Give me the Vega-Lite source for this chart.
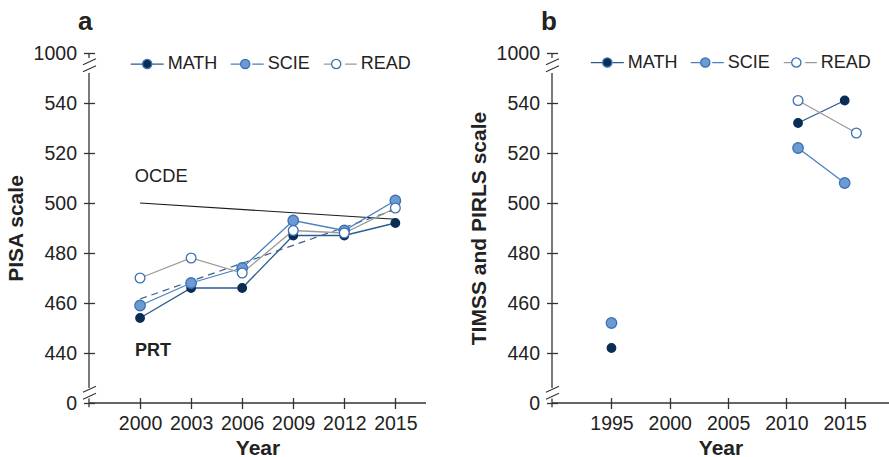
{
  "$schema": "https://vega.github.io/schema/vega-lite/v6.json",
  "background": "white",
  "padding": {"left": 5, "top": 9, "right": 0, "bottom": 0},
  "config": {
    "view": {"stroke": null},
    "font": "Liberation Sans",
    "axis": {
      "domain": false, "grid": false, "ticks": true, "tickSize": 11, "offset": -5.5,
      "tickColor": "#333333", "tickWidth": 1.3,
      "labelFont": "Liberation Sans", "labelFontSize": 19.5, "labelColor": "#222222",
      "titleFont": "Liberation Sans", "titleFontSize": 21, "titleFontWeight": "bold", "titleColor": "#222222"
    },
    "axisX": {"labelPadding": 6, "titlePadding": 4},
    "axisY": {"labelPadding": 7, "titlePadding": 7},
    "title": {"anchor": "start", "frame": "group", "fontSize": 26, "fontWeight": "bold", "color": "#222222", "dx": -11, "offset": 8}
  },
  "datasets": {
    "pisa": [
      {"year": 2000, "subject": "MATH", "score": 454},
      {"year": 2003, "subject": "MATH", "score": 466},
      {"year": 2006, "subject": "MATH", "score": 466},
      {"year": 2009, "subject": "MATH", "score": 487},
      {"year": 2012, "subject": "MATH", "score": 487},
      {"year": 2015, "subject": "MATH", "score": 492},
      {"year": 2000, "subject": "SCIE", "score": 459},
      {"year": 2003, "subject": "SCIE", "score": 468},
      {"year": 2006, "subject": "SCIE", "score": 474},
      {"year": 2009, "subject": "SCIE", "score": 493},
      {"year": 2012, "subject": "SCIE", "score": 489},
      {"year": 2015, "subject": "SCIE", "score": 501},
      {"year": 2000, "subject": "READ", "score": 470},
      {"year": 2003, "subject": "READ", "score": 478},
      {"year": 2006, "subject": "READ", "score": 472},
      {"year": 2009, "subject": "READ", "score": 489},
      {"year": 2012, "subject": "READ", "score": 488},
      {"year": 2015, "subject": "READ", "score": 498}
    ],
    "timss": [
      {"year": 1995, "subject": "MATH", "score": 442},
      {"year": 2011, "subject": "MATH", "score": 532},
      {"year": 2015, "subject": "MATH", "score": 541},
      {"year": 1995, "subject": "SCIE", "score": 452},
      {"year": 2011, "subject": "SCIE", "score": 522},
      {"year": 2015, "subject": "SCIE", "score": 508},
      {"year": 2011, "subject": "READ", "score": 541},
      {"year": 2016, "subject": "READ", "score": 528}
    ],
    "ocde": [
      {"year": 2000, "score": 500},
      {"year": 2015, "score": 493.5}
    ],
    "trend": [
      {"year": 2000, "score": 461.6},
      {"year": 2015, "score": 497.4}
    ],
    "one": [{}]
  },
  "spacing": 41,
  "resolve": {
    "scale": {"x": "independent", "y": "independent", "stroke": "independent", "fill": "independent"},
    "legend": {"stroke": "independent", "fill": "independent"}
  },
  "hconcat": [
    {
      "width": 337,
      "height": 350,
      "title": {"text": "a"},
      "layer": [
        {
          "data": {"name": "ocde"},
          "mark": {"type": "line", "color": "#1a1a1a", "strokeWidth": 1.2},
          "encoding": {
            "x": {"field": "year", "type": "quantitative", "scale": {"domain": [1997, 2016.8], "nice": false, "zero": false},
                  "axis": {"values": [2000, 2003, 2006, 2009, 2012, 2015], "format": "d", "title": "Year"}},
            "y": {"field": "score", "type": "quantitative", "scale": {"domain": [420, 560], "nice": false, "zero": false},
                  "axis": {"values": [420, 440, 460, 480, 500, 520, 540, 560], "title": "PISA scale",
                           "labelExpr": "datum.value == 420 ? '0' : datum.value == 560 ? '1000' : datum.label"}}
          }
        },
        {
          "data": {"name": "trend"},
          "mark": {"type": "line", "color": "#3e5f88", "strokeWidth": 1.2, "strokeDash": [7, 5]},
          "encoding": {
            "x": {"field": "year", "type": "quantitative"},
            "y": {"field": "score", "type": "quantitative"}
          }
        },
        {
          "data": {"name": "pisa"},
          "mark": {"type": "line", "strokeWidth": 1.3},
          "encoding": {
            "x": {"field": "year", "type": "quantitative"},
            "y": {"field": "score", "type": "quantitative"},
            "stroke": {"field": "subject", "type": "nominal",
              "scale": {"domain": ["MATH", "SCIE", "READ"], "range": ["#2a5c90", "#4a80c0", "#9a9a9a"]},
              "legend": {"orient": "none", "legendX": 40.7, "legendY": -6.7, "direction": "horizontal", "title": null,
                "symbolType": "M-1,0L-0.3,0M0.3,0L1,0", "symbolSize": 1089, "symbolStrokeWidth": 1.3,
                "labelFontSize": 18, "labelColor": "#222222", "labelOffset": 3, "columnPadding": 10, "padding": 0}}
          }
        },
        {
          "data": {"name": "pisa"},
          "mark": {"type": "point", "shape": "circle", "filled": true, "opacity": 1, "strokeWidth": 1.3},
          "encoding": {
            "x": {"field": "year", "type": "quantitative"},
            "y": {"field": "score", "type": "quantitative"},
            "fill": {"field": "subject", "type": "nominal", "sort": null,
              "scale": {"range": ["#0a2d55", "#6b9bd2", "#ffffff"]},
              "legend": {"orient": "none", "legendX": 40.7, "legendY": -6.7, "direction": "horizontal", "title": null,
                "symbolType": "M-0.28,0A0.28,0.28 0 1,1 0.28,0A0.28,0.28 0 1,1 -0.28,0Z", "symbolSize": 1089, "labelOpacity": 0,
                "symbolStrokeWidth": 1.3,
                "labelFontSize": 18, "labelOffset": 3, "columnPadding": 10, "padding": 0,
                "encode": {"symbols": {
                  "shape": {"condition": {"test": "datum.value === 'SCIE'", "value": "M-0.35,0A0.35,0.35 0 1,1 0.35,0A0.35,0.35 0 1,1 -0.35,0Z"}, "value": "M-0.27,0A0.27,0.27 0 1,1 0.27,0A0.27,0.27 0 1,1 -0.27,0Z"},
                  "stroke": {"condition": {"test": "datum.value === 'MATH'", "value": "#0a2d55"}, "value": "#3d72b2"}}}}},
            "stroke": {"condition": {"test": "datum.subject === 'MATH'", "value": "#0a2d55"}, "value": "#3d72b2"},
            "size": {"condition": [{"test": "datum.subject === 'MATH'", "value": 72}, {"test": "datum.subject === 'READ'", "value": 95}], "value": 110}
          }
        },
        {
          "data": {"name": "one"},
          "mark": {"type": "text", "text": "OCDE", "align": "left", "baseline": "middle", "fontSize": 18.3, "color": "#222222", "dx": -5.3},
          "encoding": {"x": {"datum": 2000}, "y": {"datum": 510.5}}
        },
        {
          "data": {"name": "one"},
          "mark": {"type": "text", "text": "PRT", "align": "left", "baseline": "middle", "fontSize": 18, "fontWeight": "bold", "color": "#222222", "dx": -5},
          "encoding": {"x": {"datum": 2000}, "y": {"datum": 441}}
        },
        {
          "data": {"name": "one"},
          "mark": {"type": "rule", "color": "#333333", "strokeWidth": 1.3},
          "encoding": {"x": {"datum": 1997}, "y": {"datum": 426}, "y2": {"datum": 552}}
        },
        {
          "data": {"name": "one"},
          "mark": {"type": "rule", "color": "#333333", "strokeWidth": 1.3},
          "encoding": {"x": {"datum": 1997}, "y": {"datum": 558}, "y2": {"datum": 560}}
        },
        {
          "data": {"name": "one"},
          "mark": {"type": "rule", "color": "#333333", "strokeWidth": 1.3},
          "encoding": {"x": {"datum": 1997}, "y": {"datum": 418.3}, "y2": {"datum": 421.8}}
        },
        {
          "data": {"name": "one"},
          "mark": {"type": "rule", "color": "#333333", "strokeWidth": 1.3},
          "encoding": {"x": {"datum": 1997}, "x2": {"datum": 2016.8}, "y": {"datum": 420}}
        },
        {
          "data": {"name": "one"},
          "mark": {"type": "rule", "color": "#333333", "strokeWidth": 1.1, "xOffset": -6, "x2Offset": 7},
          "encoding": {"x": {"datum": 1997}, "x2": {"datum": 1997}, "y": {"datum": 555.3}, "y2": {"datum": 557.7}}
        },
        {
          "data": {"name": "one"},
          "mark": {"type": "rule", "color": "#333333", "strokeWidth": 1.1, "xOffset": -6, "x2Offset": 7},
          "encoding": {"x": {"datum": 1997}, "x2": {"datum": 1997}, "y": {"datum": 552.5}, "y2": {"datum": 554.9}}
        },
        {
          "data": {"name": "one"},
          "mark": {"type": "rule", "color": "#333333", "strokeWidth": 1.1, "xOffset": -6, "x2Offset": 7},
          "encoding": {"x": {"datum": 1997}, "x2": {"datum": 1997}, "y": {"datum": 424.3}, "y2": {"datum": 426.7}}
        },
        {
          "data": {"name": "one"},
          "mark": {"type": "rule", "color": "#333333", "strokeWidth": 1.1, "xOffset": -6, "x2Offset": 7},
          "encoding": {"x": {"datum": 1997}, "x2": {"datum": 1997}, "y": {"datum": 421.5}, "y2": {"datum": 423.9}}
        }
      ]
    },
    {
      "width": 337,
      "height": 350,
      "title": {"text": "b"},
      "layer": [
        {
          "data": {"name": "timss"},
          "transform": [{"filter": "datum.year >= 2011"}],
          "mark": {"type": "line", "strokeWidth": 1.3},
          "encoding": {
            "x": {"field": "year", "type": "quantitative", "scale": {"domain": [1989.9, 2018.8], "nice": false, "zero": false},
                  "axis": {"values": [1995, 2000, 2005, 2010, 2015], "format": "d", "title": "Year"}},
            "y": {"field": "score", "type": "quantitative", "scale": {"domain": [420, 560], "nice": false, "zero": false},
                  "axis": {"values": [420, 440, 460, 480, 500, 520, 540, 560], "title": "TIMSS and PIRLS scale",
                           "labelExpr": "datum.value == 420 ? '0' : datum.value == 560 ? '1000' : datum.label"}},
            "stroke": {"field": "subject", "type": "nominal",
              "scale": {"domain": ["MATH", "SCIE", "READ"], "range": ["#2a5c90", "#4a80c0", "#9a9a9a"]},
              "legend": {"orient": "none", "legendX": 37.8, "legendY": -8.2, "direction": "horizontal", "title": null,
                "symbolType": "M-1,0L-0.3,0M0.3,0L1,0", "symbolSize": 1089, "symbolStrokeWidth": 1.3,
                "labelFontSize": 18, "labelColor": "#222222", "labelOffset": 3, "columnPadding": 10, "padding": 0}}
          }
        },
        {
          "data": {"name": "timss"},
          "mark": {"type": "point", "shape": "circle", "filled": true, "opacity": 1, "strokeWidth": 1.3},
          "encoding": {
            "x": {"field": "year", "type": "quantitative"},
            "y": {"field": "score", "type": "quantitative"},
            "fill": {"field": "subject", "type": "nominal", "sort": null,
              "scale": {"range": ["#0a2d55", "#6b9bd2", "#ffffff"]},
              "legend": {"orient": "none", "legendX": 37.8, "legendY": -8.2, "direction": "horizontal", "title": null,
                "symbolType": "M-0.28,0A0.28,0.28 0 1,1 0.28,0A0.28,0.28 0 1,1 -0.28,0Z", "symbolSize": 1089, "labelOpacity": 0,
                "symbolStrokeWidth": 1.3,
                "labelFontSize": 18, "labelOffset": 3, "columnPadding": 10, "padding": 0,
                "encode": {"symbols": {
                  "shape": {"condition": {"test": "datum.value === 'SCIE'", "value": "M-0.35,0A0.35,0.35 0 1,1 0.35,0A0.35,0.35 0 1,1 -0.35,0Z"}, "value": "M-0.27,0A0.27,0.27 0 1,1 0.27,0A0.27,0.27 0 1,1 -0.27,0Z"},
                  "stroke": {"condition": {"test": "datum.value === 'MATH'", "value": "#0a2d55"}, "value": "#3d72b2"}}}}},
            "stroke": {"condition": {"test": "datum.subject === 'MATH'", "value": "#0a2d55"}, "value": "#3d72b2"},
            "size": {"condition": [{"test": "datum.subject === 'MATH'", "value": 72}, {"test": "datum.subject === 'READ'", "value": 95}], "value": 110}
          }
        },
        {
          "data": {"name": "one"},
          "mark": {"type": "rule", "color": "#333333", "strokeWidth": 1.3},
          "encoding": {"x": {"datum": 1989.9}, "y": {"datum": 426}, "y2": {"datum": 552}}
        },
        {
          "data": {"name": "one"},
          "mark": {"type": "rule", "color": "#333333", "strokeWidth": 1.3},
          "encoding": {"x": {"datum": 1989.9}, "y": {"datum": 558}, "y2": {"datum": 560}}
        },
        {
          "data": {"name": "one"},
          "mark": {"type": "rule", "color": "#333333", "strokeWidth": 1.3},
          "encoding": {"x": {"datum": 1989.9}, "y": {"datum": 418.3}, "y2": {"datum": 421.8}}
        },
        {
          "data": {"name": "one"},
          "mark": {"type": "rule", "color": "#333333", "strokeWidth": 1.3},
          "encoding": {"x": {"datum": 1989.9}, "x2": {"datum": 2018.8}, "y": {"datum": 420}}
        },
        {
          "data": {"name": "one"},
          "mark": {"type": "rule", "color": "#333333", "strokeWidth": 1.1, "xOffset": -6, "x2Offset": 7},
          "encoding": {"x": {"datum": 1989.9}, "x2": {"datum": 1989.9}, "y": {"datum": 555.3}, "y2": {"datum": 557.7}}
        },
        {
          "data": {"name": "one"},
          "mark": {"type": "rule", "color": "#333333", "strokeWidth": 1.1, "xOffset": -6, "x2Offset": 7},
          "encoding": {"x": {"datum": 1989.9}, "x2": {"datum": 1989.9}, "y": {"datum": 552.5}, "y2": {"datum": 554.9}}
        },
        {
          "data": {"name": "one"},
          "mark": {"type": "rule", "color": "#333333", "strokeWidth": 1.1, "xOffset": -6, "x2Offset": 7},
          "encoding": {"x": {"datum": 1989.9}, "x2": {"datum": 1989.9}, "y": {"datum": 424.3}, "y2": {"datum": 426.7}}
        },
        {
          "data": {"name": "one"},
          "mark": {"type": "rule", "color": "#333333", "strokeWidth": 1.1, "xOffset": -6, "x2Offset": 7},
          "encoding": {"x": {"datum": 1989.9}, "x2": {"datum": 1989.9}, "y": {"datum": 421.5}, "y2": {"datum": 423.9}}
        }
      ]
    }
  ]
}
